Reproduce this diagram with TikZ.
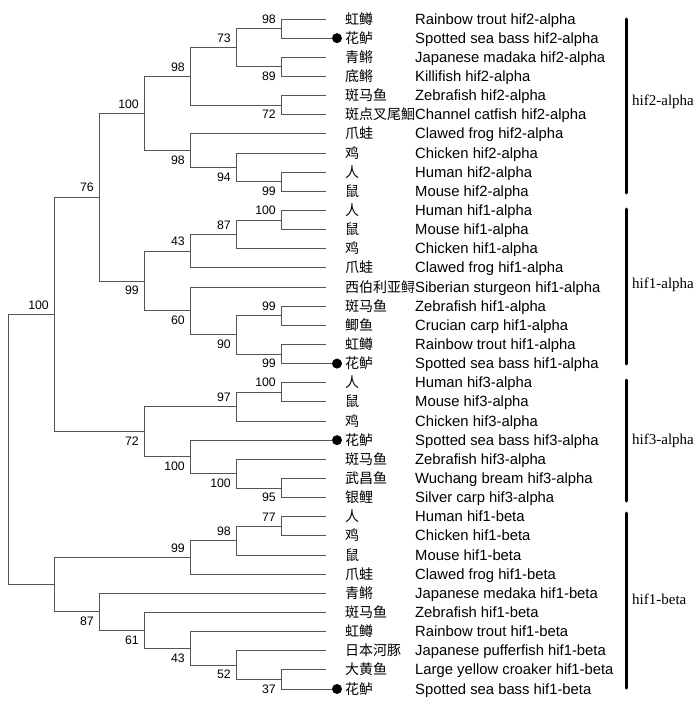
\documentclass[tikz,border=0pt]{standalone}
\usepackage{fontspec}
\setmainfont{Liberation Sans}
\newfontfamily\cjkfont{Noto Sans CJK SC}
\newfontfamily\serffont{Liberation Serif}
\definecolor{branchgray}{RGB}{85,85,85}
\begin{document}
\begin{tikzpicture}[x=1pt,y=-1pt,
  branch/.style={draw=branchgray, line width=0.9pt},
  blabove/.style={anchor=south east, inner sep=0pt, xshift=-5pt, yshift=5pt, font=\fontsize{12.3}{14}\selectfont},
  blbelow/.style={anchor=north east, inner sep=0pt, xshift=-5pt, yshift=-5pt, font=\fontsize{12.3}{14}\selectfont},
  cntext/.style={anchor=base west, inner sep=0pt, font=\cjkfont\fontsize{14}{16}\selectfont},
  entext/.style={anchor=base west, inner sep=0pt, font=\fontsize{14.8}{16}\selectfont},
  grouplabel/.style={anchor=base west, inner sep=0pt, font=\serffont\fontsize{15}{17}\selectfont},
  groupbar/.style={line width=3pt, line cap=round},
  dotleaf/.style={circle, fill=black, minimum size=10pt, inner sep=0pt}]
\useasboundingbox (0,0) rectangle (700,707);

% leaves
\foreach \i/\cn/\en in {
 1/虹鳟/Rainbow trout hif2-alpha,
 2/花鲈/Spotted sea bass hif2-alpha,
 3/青鳉/Japanese madaka hif2-alpha,
 4/底鳉/Killifish hif2-alpha,
 5/斑马鱼/Zebrafish hif2-alpha,
 6/斑点叉尾鮰/Channel catfish hif2-alpha,
 7/爪蛙/Clawed frog hif2-alpha,
 8/鸡/Chicken hif2-alpha,
 9/人/Human hif2-alpha,
 10/鼠/Mouse hif2-alpha,
 11/人/Human hif1-alpha,
 12/鼠/Mouse hif1-alpha,
 13/鸡/Chicken hif1-alpha,
 14/爪蛙/Clawed frog hif1-alpha,
 15/西伯利亚鲟/Siberian sturgeon hif1-alpha,
 16/斑马鱼/Zebrafish hif1-alpha,
 17/鲫鱼/Crucian carp hif1-alpha,
 18/虹鳟/Rainbow trout hif1-alpha,
 19/花鲈/Spotted sea bass hif1-alpha,
 20/人/Human hif3-alpha,
 21/鼠/Mouse hif3-alpha,
 22/鸡/Chicken hif3-alpha,
 23/花鲈/Spotted sea bass hif3-alpha,
 24/斑马鱼/Zebrafish hif3-alpha,
 25/武昌鱼/Wuchang bream hif3-alpha,
 26/银鲤/Silver carp hif3-alpha,
 27/人/Human hif1-beta,
 28/鸡/Chicken hif1-beta,
 29/鼠/Mouse hif1-beta,
 30/爪蛙/Clawed frog hif1-beta,
 31/青鳉/Japanese medaka hif1-beta,
 32/斑马鱼/Zebrafish hif1-beta,
 33/虹鳟/Rainbow trout hif1-beta,
 34/日本河豚/Japanese pufferfish hif1-beta,
 35/大黄鱼/Large yellow croaker hif1-beta,
 36/花鲈/Spotted sea bass hif1-beta}{
  \pgfmathsetmacro{\yy}{19+(\i-1)*19.1429}
  \coordinate (l\i) at (326,\yy);
  \node[cntext] (c\i) at (345,\yy+5) {\cn};
  \node[entext] (e\i) at (415,\yy+5) {\en};
}
% dots for spotted sea bass
\foreach \i in {2,19,23,36}{
  \pgfmathsetmacro{\yy}{19+(\i-1)*19.1429}
  \node[dotleaf] (d\i) at (337,\yy) {};
}

% internal nodes
\coordinate (n1) at (281,28.57);
\coordinate (n2) at (281,66.86);
\coordinate (n3) at (236,47.71);
\coordinate (n4) at (281,105.14);
\coordinate (n5) at (190,76.43);
\coordinate (n6) at (281,181.71);
\coordinate (n7) at (236,167.36);
\coordinate (n8) at (190,150.61);
\coordinate (n9) at (144,113.52);
\coordinate (n10) at (281,220.0);
\coordinate (n11) at (236,234.36);
\coordinate (n12) at (190,251.11);
\coordinate (n13) at (281,315.71);
\coordinate (n14) at (281,354.0);
\coordinate (n15) at (236,334.86);
\coordinate (n16) at (190,310.93);
\coordinate (n17) at (144,281.02);
\coordinate (n18) at (99,197.27);
\coordinate (n19) at (281,392.29);
\coordinate (n20) at (236,406.64);
\coordinate (n21) at (281,488.0);
\coordinate (n22) at (236,473.64);
\coordinate (n23) at (190,456.89);
\coordinate (n24) at (144,431.77);
\coordinate (n25) at (54,314.52);
\coordinate (n26) at (281,526.29);
\coordinate (n27) at (236,540.64);
\coordinate (n28) at (190,557.39);
\coordinate (n29) at (281,679.43);
\coordinate (n30) at (236,665.07);
\coordinate (n31) at (190,648.32);
\coordinate (n32) at (144,630.38);
\coordinate (n33) at (99,611.83);
\coordinate (n34) at (54,584.61);
\coordinate (root) at (8,449.57);

% branches
\foreach \p/\c in {
 n1/l1, n1/d2, n2/l3, n2/l4, n3/n1, n3/n2, n4/l5, n4/l6, n5/n3, n5/n4,
 n6/l9, n6/l10, n7/l8, n7/n6, n8/l7, n8/n7, n9/n5, n9/n8,
 n10/l11, n10/l12, n11/n10, n11/l13, n12/n11, n12/l14,
 n13/l16, n13/l17, n14/l18, n14/d19, n15/n13, n15/n14, n16/l15, n16/n15,
 n17/n12, n17/n16, n18/n9, n18/n17,
 n19/l20, n19/l21, n20/n19, n20/l22, n21/l25, n21/l26, n22/l24, n22/n21,
 n23/d23, n23/n22, n24/n20, n24/n23, n25/n18, n25/n24,
 n26/l27, n26/l28, n27/n26, n27/l29, n28/n27, n28/l30,
 n29/l35, n29/d36, n30/l34, n30/n29, n31/l33, n31/n30, n32/l32, n32/n31,
 n33/l31, n33/n32, n34/n28, n34/n33, root/n25, root/n34}{
  \draw[branch] (\p) |- (\c);
}

% bootstrap values
\foreach \n/\v in {n1/98, n3/73, n5/98, n9/100, n10/100, n11/87, n12/43, n13/99,
  n18/76, n19/100, n20/97, n25/100, n26/77, n27/98, n28/99}{
  \node[blabove] (b\n) at (\n) {\v};
}
\foreach \n/\v in {n2/89, n4/72, n6/99, n7/94, n8/98, n14/99, n15/90, n16/60, n17/99,
  n21/95, n22/100, n23/100, n24/72, n29/37, n30/52, n31/43, n32/61, n33/87}{
  \node[blbelow] (b\n) at (\n) {\v};
}

% group bars
\coordinate (g1t) at (626,19);  \coordinate (g1b) at (626,193);
\coordinate (g2t) at (626,209); \coordinate (g2b) at (626,364);
\coordinate (g3t) at (626,380); \coordinate (g3b) at (626,501);
\coordinate (g4t) at (626,513); \coordinate (g4b) at (626,688);
\draw[groupbar] (g1t) -- (g1b);
\draw[groupbar] (g2t) -- (g2b);
\draw[groupbar] (g3t) -- (g3b);
\draw[groupbar] (g4t) -- (g4b);
\node[grouplabel] (gl1) at (632,105) {hif2-alpha};
\node[grouplabel] (gl2) at (632,288) {hif1-alpha};
\node[grouplabel] (gl3) at (632,444) {hif3-alpha};
\node[grouplabel] (gl4) at (632,604) {hif1-beta};
\end{tikzpicture}
\end{document}
